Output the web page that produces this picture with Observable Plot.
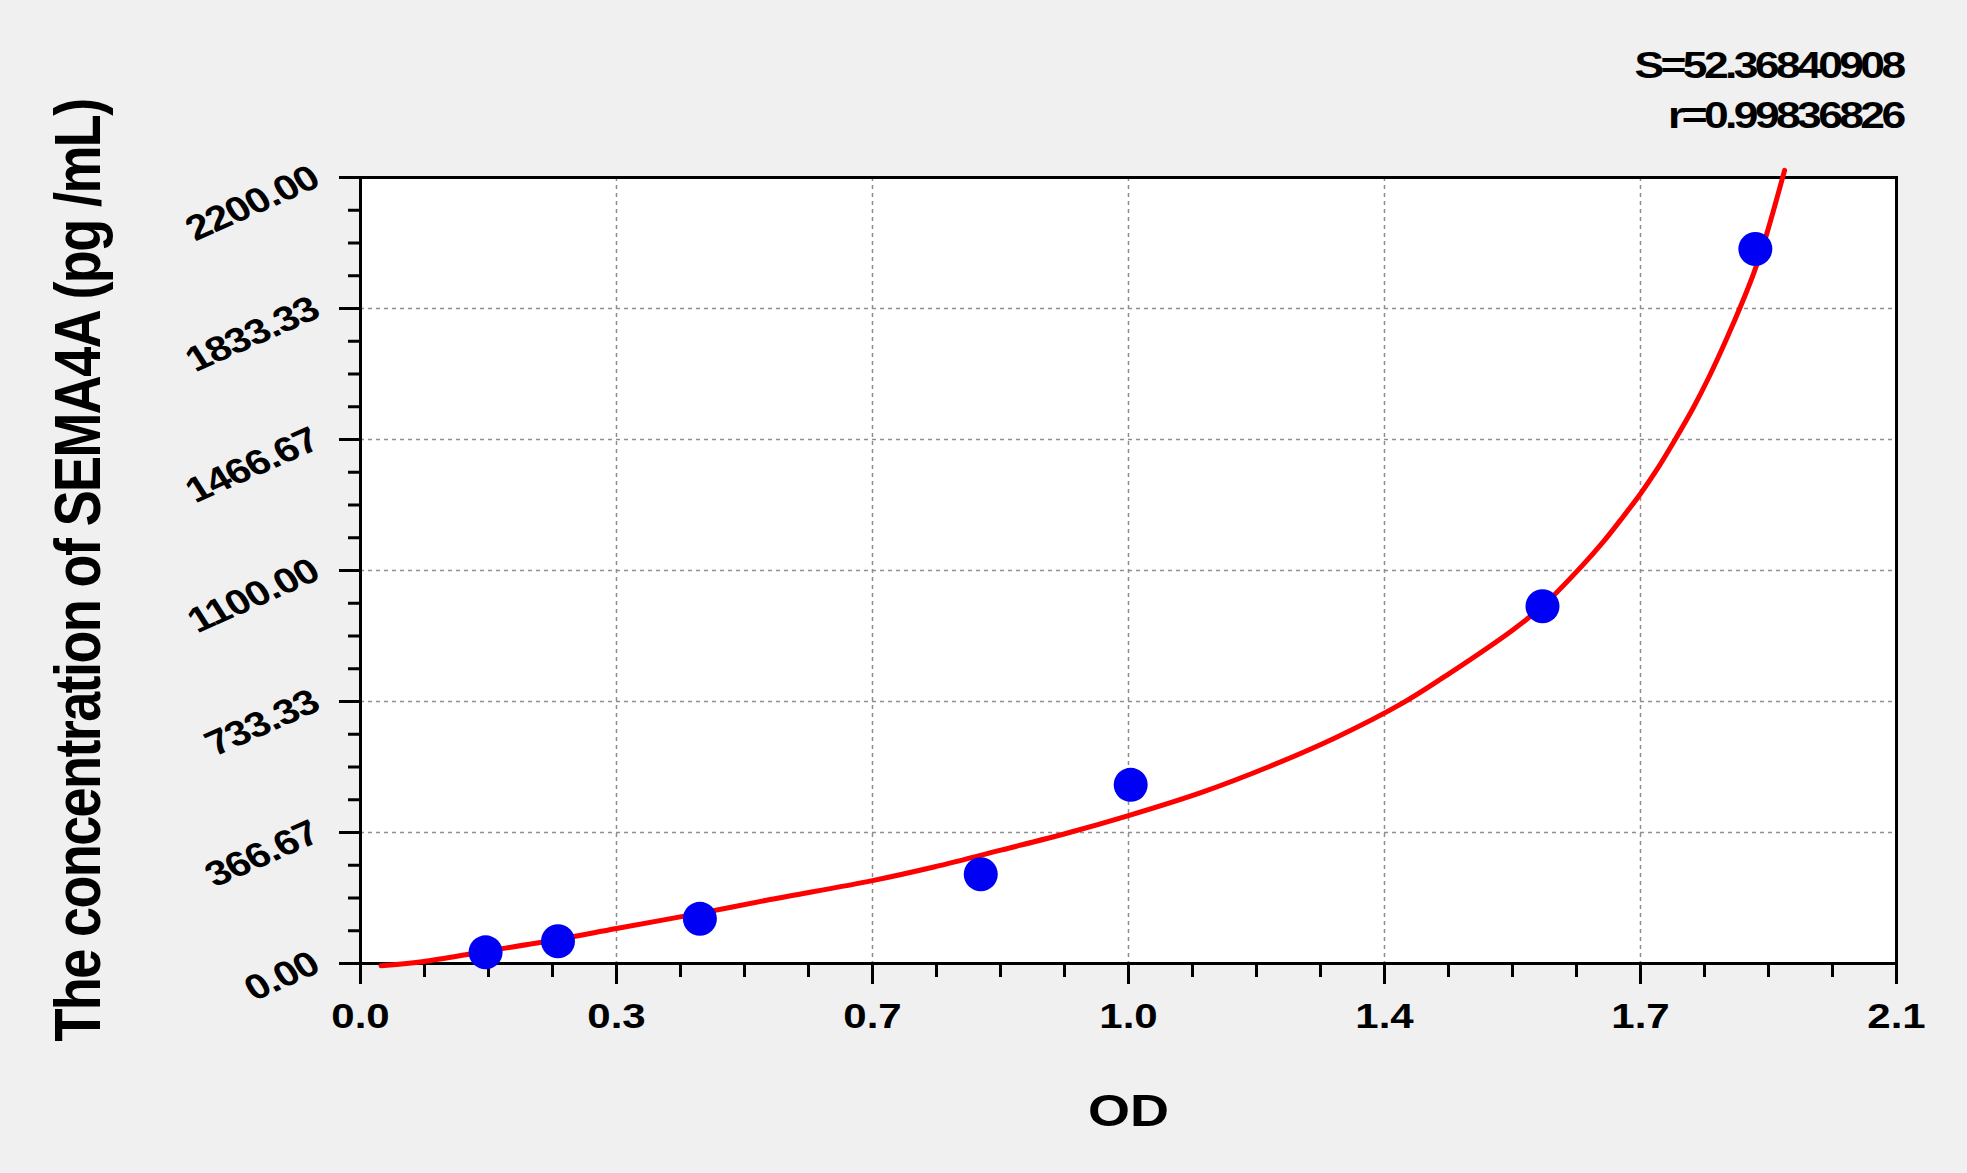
<!DOCTYPE html>
<html><head><meta charset="utf-8">
<script src="https://cdn.jsdelivr.net/npm/d3@7"></script>
<script src="https://cdn.jsdelivr.net/npm/@observablehq/plot@0.6"></script>
<style>html,body{margin:0;padding:0;background:#f0f0f0;} svg{display:block;}</style>
</head><body><div id="chart"></div>
<script>
// Standard points (OD vs concentration)
const pointOD   = [0.171, 0.270, 0.464, 0.848, 1.053, 1.616, 1.907];
const pointConc = [31.25, 62.5, 125, 250, 500, 1000, 2000];

// Fitted curve
const curveOD   = [0.028, 0.084, 0.168, 0.269, 0.350, 0.465, 0.560, 0.700, 0.784, 0.877, 0.968, 1.050, 1.150, 1.241, 1.333, 1.424, 1.491, 1.575, 1.616, 1.671, 1.699, 1.726, 1.750, 1.771, 1.796, 1.822, 1.844, 1.867, 1.890, 1.905, 1.920, 1.947];
const curveConc = [-6, 5, 33, 67, 98, 141, 179, 232, 270, 318, 366, 414, 479, 550, 632, 728, 815, 933, 1000, 1115, 1180, 1250, 1315, 1378, 1462, 1555, 1643, 1745, 1855, 1933, 2025, 2220];

// Axes
const xTicks = [0, 0.35, 0.7, 1.05, 1.4, 1.75, 2.1];
const xTickLabels = ["0.0", "0.3", "0.7", "1.0", "1.4", "1.7", "2.1"];
const yTicks = [0, 366.67, 733.33, 1100, 1466.67, 1833.33, 2200];
const yTickLabels = ["0.00", "366.67", "733.33", "1100.00", "1466.67", "1833.33", "2200.00"];
const xMinor = d3.range(0, 25).map(k => k * 2.1 / 24);
const yMinor = d3.range(0, 25).map(k => k * 2200 / 24);

const xTitle = "OD";
const yTitle = "The concentration of SEMA4A (pg /mL)";
const statsLines = ["S=52.36840908", "r=0.99836826"];

const points = pointOD.map((od, i) => ({od, conc: pointConc[i]}));
const curve = curveOD.map((od, i) => ({od, conc: curveConc[i]}));

const font = "'Liberation Sans', Arial, Helvetica, sans-serif";
const gridStyle = {stroke: "#8f8f8f", strokeOpacity: 1, strokeWidth: 1.5, strokeDasharray: "4,4"};

const chart = Plot.plot({
  width: 1967, height: 1173,
  marginLeft: 360, marginRight: 71, marginTop: 177, marginBottom: 210,
  style: {background: "#f0f0f0", fontFamily: font, color: "black"},
  x: {domain: [0, 2.1], axis: null},
  y: {domain: [0, 2200], axis: null},
  marks: [
    Plot.frame({fill: "white", stroke: null}),
    Plot.gridX(xTicks, gridStyle),
    Plot.gridY(yTicks, gridStyle),
    Plot.frame({stroke: "black", strokeWidth: 3}),
    Plot.axisX(xMinor, {tickSize: 14, strokeWidth: 3, fill: "none", label: null}),
    Plot.axisX(xTicks, {tickSize: 21, strokeWidth: 3, fill: "none", label: null}),
    Plot.axisX(xTicks, {tickSize: 0, tickPadding: 40, fontSize: 35, fontWeight: "bold", label: null,
      tickFormat: d => xTickLabels[xTicks.indexOf(d)]}),
    Plot.axisY(yMinor, {tickSize: 12, strokeWidth: 3, fill: "none", label: null}),
    Plot.axisY(yTicks, {tickSize: 21, strokeWidth: 3, fill: "none", label: null}),
    Plot.axisY(yTicks, {tickSize: 0, tickPadding: 45, tickRotate: -28, dy: -2, fontSize: 35, fontWeight: "bold", label: null,
      tickFormat: d => yTickLabels[yTicks.indexOf(d)]}),
    Plot.line(curve, {x: "od", y: "conc", stroke: "#ff0000", strokeWidth: 5, curve: "catmull-rom"}),
    Plot.dot(points, {x: "od", y: "conc", r: 17, fill: "#0000f5", stroke: null}),
    Plot.text([yTitle], {text: d => d, frameAnchor: "left", dx: -281, rotate: -90, textAnchor: "middle", lineAnchor: "middle", fontSize: 54, fontWeight: "bold"}),
    Plot.text([xTitle], {text: d => d, frameAnchor: "bottom", dy: 148, textAnchor: "middle", lineAnchor: "middle", fontSize: 45, fontWeight: "bold"}),
    Plot.text([statsLines[0]], {text: d => d, frameAnchor: "top-right", dx: 6, dy: -100, textAnchor: "end", lineAnchor: "bottom", fontSize: 37, fontWeight: "bold"}),
    Plot.text([statsLines[1]], {text: d => d, frameAnchor: "top-right", dx: 6, dy: -50, textAnchor: "end", lineAnchor: "bottom", fontSize: 37, fontWeight: "bold"})
  ]
});

// The reference's lettering is horizontally widened; mimic it.
chart.querySelectorAll("text").forEach(t => {
  const tr = t.getAttribute("transform");
  if (tr && /^translate/.test(tr)) {
    t.setAttribute("transform", tr.replace(/^(translate\([^)]*\))/, "$1 scale(1.2,1)"));
  }
  const s = t.textContent;
  if (s.startsWith("S=") || s.startsWith("r=")) t.style.letterSpacing = "-3px";
  else if (s === yTitle) t.style.letterSpacing = "-1.6px";
  else if (yTickLabels.includes(s)) t.style.letterSpacing = "-1px";
});

document.getElementById("chart").appendChild(chart);
</script>
</body></html>
